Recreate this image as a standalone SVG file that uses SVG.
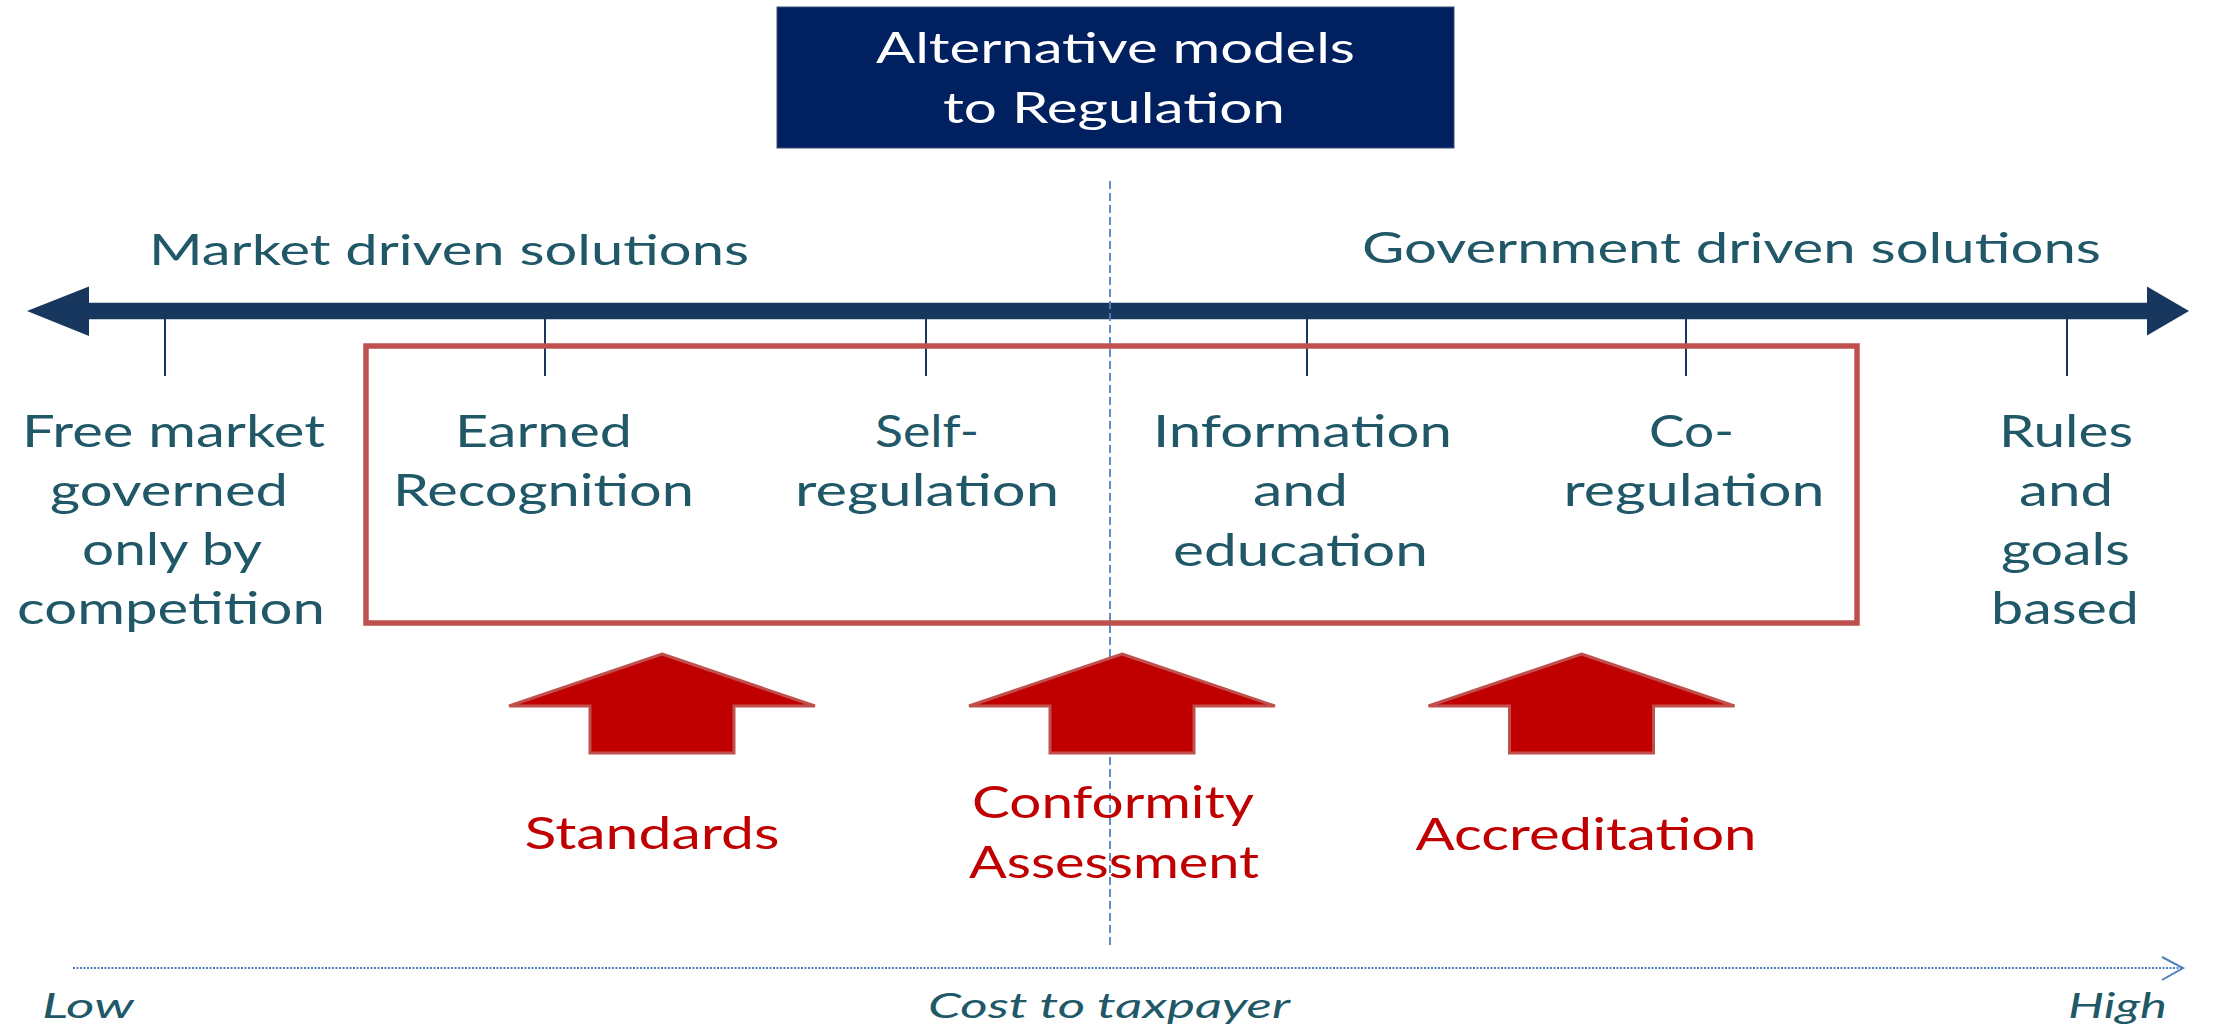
<svg xmlns="http://www.w3.org/2000/svg" width="2216" height="1027" viewBox="0 0 2216 1027">
<style>
text{font-family:Lato,"Open Sans","DejaVu Sans",sans-serif;text-anchor:middle;}
.t{fill:#ffffff;font-size:42px;}
.h{fill:#215868;font-size:42px;}
.n{fill:#215868;font-size:44px;}
.r{fill:#c00000;font-size:44px;}
.b{fill:#215868;font-size:34px;font-style:italic;}
.tick{stroke:#17375e;stroke-width:2;}
.up{fill:#c00000;stroke:#c0504d;stroke-width:3;stroke-linejoin:miter;}
</style>
<defs>
<polygon id="uparrow" points="0,0 153,52 72,52 72,99 -72,99 -72,52 -153,52"/>
</defs>
<rect width="2216" height="1027" fill="#ffffff"/>

<g id="title">
<rect x="777" y="7" width="677" height="141" fill="#002060" stroke="#3a4f7a" stroke-width="1"/>
<text class="t" x="1115.5" y="63" textLength="479" lengthAdjust="spacingAndGlyphs">Alternative models</text>
<text class="t" x="1114" y="123" textLength="342" lengthAdjust="spacingAndGlyphs">to Regulation</text>
</g>

<g id="connectors">
<line x1="88" y1="311" x2="2148" y2="311" stroke="#17375e" stroke-width="16.5"/>
<polygon points="27,311 89,286.5 89,336" fill="#17375e"/>
<polygon points="2189,311 2147,286.5 2147,335.5" fill="#17375e"/>
<line class="tick" x1="165" y1="318" x2="165" y2="376"/>
<line class="tick" x1="545" y1="318" x2="545" y2="376"/>
<line class="tick" x1="926" y1="318" x2="926" y2="376"/>
<line class="tick" x1="1307" y1="318" x2="1307" y2="376"/>
<line class="tick" x1="1686" y1="318" x2="1686" y2="376"/>
<line class="tick" x1="2067" y1="318" x2="2067" y2="376"/>
<line x1="1110" y1="181" x2="1110" y2="948" stroke="#4f81bd" stroke-width="1.8" stroke-dasharray="8 4"/>
<line x1="73" y1="968" x2="2181" y2="968" stroke="#4f81bd" stroke-width="2" stroke-dasharray="2 1.5"/>
<polyline points="2162,957 2183,968 2162,980" fill="none" stroke="#4f81bd" stroke-width="2"/>
</g>

<g id="headings">
<text class="h" x="449" y="265" textLength="600" lengthAdjust="spacingAndGlyphs">Market driven solutions</text>
<text class="h" x="1731.5" y="263" textLength="739" lengthAdjust="spacingAndGlyphs">Government driven solutions</text>
</g>

<g id="group-box">
<rect x="366" y="346" width="1491" height="277" fill="none" stroke="#c0504d" stroke-width="5.5"/>
</g>

<g id="node-free-market">
<text class="n" x="173.5" y="447" textLength="303" lengthAdjust="spacingAndGlyphs">Free market</text>
<text class="n" x="169" y="506" textLength="238" lengthAdjust="spacingAndGlyphs">governed</text>
<text class="n" x="172" y="565" textLength="180" lengthAdjust="spacingAndGlyphs">only by</text>
<text class="n" x="171" y="624" textLength="308" lengthAdjust="spacingAndGlyphs">competition</text>
</g>

<g id="node-earned-recognition">
<text class="n" x="543.5" y="447" textLength="177" lengthAdjust="spacingAndGlyphs">Earned</text>
<text class="n" x="543.5" y="506" textLength="301" lengthAdjust="spacingAndGlyphs">Recognition</text>
</g>

<g id="node-self-regulation">
<text class="n" x="927" y="447" textLength="104" lengthAdjust="spacingAndGlyphs">Self-</text>
<text class="n" x="927" y="506" textLength="264" lengthAdjust="spacingAndGlyphs">regulation</text>
</g>

<g id="node-information">
<text class="n" x="1302.5" y="447" textLength="299" lengthAdjust="spacingAndGlyphs">Information</text>
<text class="n" x="1300.5" y="506" textLength="95" lengthAdjust="spacingAndGlyphs">and</text>
<text class="n" x="1300.5" y="566" textLength="255" lengthAdjust="spacingAndGlyphs">education</text>
</g>

<g id="node-co-regulation">
<text class="n" x="1691.5" y="447" textLength="85" lengthAdjust="spacingAndGlyphs">Co-</text>
<text class="n" x="1694" y="506" textLength="261" lengthAdjust="spacingAndGlyphs">regulation</text>
</g>

<g id="node-rules">
<text class="n" x="2066" y="447" textLength="134" lengthAdjust="spacingAndGlyphs">Rules</text>
<text class="n" x="2066" y="506" textLength="94" lengthAdjust="spacingAndGlyphs">and</text>
<text class="n" x="2065.5" y="565" textLength="129" lengthAdjust="spacingAndGlyphs">goals</text>
<text class="n" x="2065" y="624" textLength="148" lengthAdjust="spacingAndGlyphs">based</text>
</g>

<g id="node-standards">
<use href="#uparrow" class="up" x="662" y="654"/>
<text class="r" x="652" y="849" textLength="255" lengthAdjust="spacingAndGlyphs">Standards</text>
</g>

<g id="node-conformity">
<use href="#uparrow" class="up" x="1122" y="654"/>
<text class="r" x="1113" y="818" textLength="282" lengthAdjust="spacingAndGlyphs">Conformity</text>
<text class="r" x="1114" y="878" textLength="290" lengthAdjust="spacingAndGlyphs">Assessment</text>
</g>

<g id="node-accreditation">
<use href="#uparrow" class="up" x="1581.5" y="654"/>
<text class="r" x="1586" y="850" textLength="341" lengthAdjust="spacingAndGlyphs">Accreditation</text>
</g>

<g id="cost-labels">
<text class="b" x="88" y="1018" textLength="92" lengthAdjust="spacingAndGlyphs">Low</text>
<text class="b" x="1109" y="1018" textLength="362" lengthAdjust="spacingAndGlyphs">Cost to taxpayer</text>
<text class="b" x="2117.5" y="1018" textLength="99" lengthAdjust="spacingAndGlyphs">High</text>
</g>
</svg>
